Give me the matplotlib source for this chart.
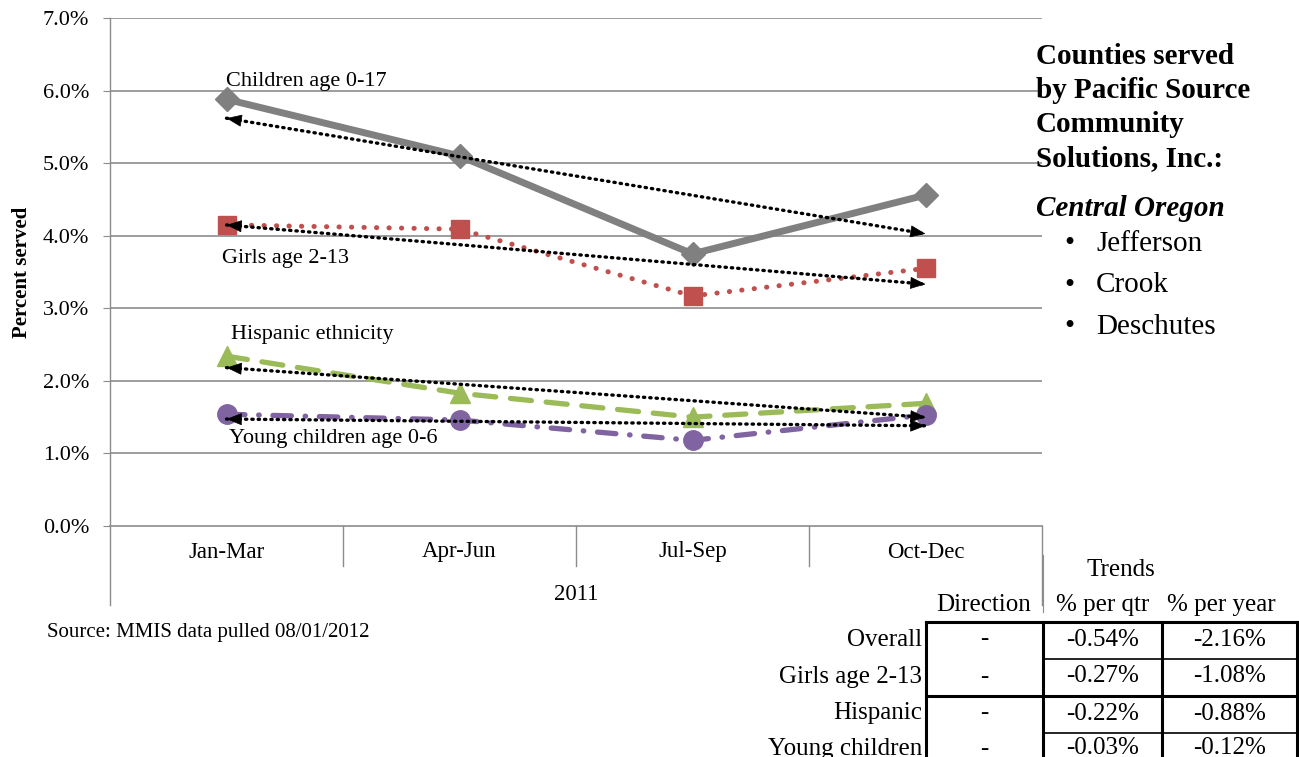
import matplotlib
matplotlib.use("Agg")
import matplotlib.pyplot as plt
import numpy as np

plt.rcParams['font.family'] = ['Liberation Serif', 'DejaVu Serif']

quarters = ["Jan-Mar", "Apr-Jun", "Jul-Sep", "Oct-Dec"]
year_label = "2011"
children = [5.88, 5.10, 3.75, 4.56]
girls = [4.15, 4.09, 3.17, 3.55]
hispanic = [2.34, 1.83, 1.50, 1.69]
young = [1.54, 1.46, 1.18, 1.53]
yticks = [0, 1, 2, 3, 4, 5, 6, 7]

table_rows = ["Overall", "Girls age 2-13", "Hispanic", "Young children"]
table_dir = ["-", "-", "-", "-"]
table_qtr = ["-0.54%", "-0.27%", "-0.22%", "-0.03%"]
table_year = ["-2.16%", "-1.08%", "-0.88%", "-0.12%"]

W, H = 1299, 757
fig = plt.figure(figsize=(W / 100, H / 100), dpi=100)
L, R, T, B = 110, 1042, 18, 526
ax = fig.add_axes([L / W, 1 - B / H, (R - L) / W, (B - T) / H])

x = np.arange(len(quarters))
ax.set_xlim(-0.5, 3.5)
ax.set_ylim(0, 7)
grid_c = '#8c8c8c'
for yv in yticks[1:]:
    ax.axhline(yv, color=grid_c, lw=1.2, zorder=0)
for s in ['top', 'right']:
    ax.spines[s].set_visible(False)
ax.spines['left'].set_color(grid_c)
ax.spines['bottom'].set_color(grid_c)
ax.spines['left'].set_linewidth(1.0)
ax.spines['bottom'].set_linewidth(1.2)
ax.set_yticks(yticks)
ax.set_yticklabels([f"{v:.1f}%" for v in yticks], fontsize=16)
ax.tick_params(axis='y', length=5, color=grid_c, pad=10)
ax.set_xticks([])
ax.set_ylabel("Percent served", fontsize=15, fontweight='bold', labelpad=8)

# category axis labels and separators
xt = ax.get_xaxis_transform()
h1 = 40 / (B - T)
h2 = 79 / (B - T)
for i, q in enumerate(quarters):
    ax.text(i, -26 / (B - T), q, transform=xt, ha='center', va='center', fontsize=16.5)
for sep in [0.5, 1.5, 2.5]:
    ax.plot([sep, sep], [0, -h1], transform=xt, color=grid_c, lw=1, clip_on=False)
for sep in [-0.5, 3.5]:
    ax.plot([sep, sep], [0, -h2], transform=xt, color=grid_c, lw=1, clip_on=False)
ax.text(1.5, -68 / (B - T), year_label, transform=xt, ha='center', va='center', fontsize=16.5)

# series
ax.plot(x, children, color='#808080', lw=5, marker='D', ms=12, zorder=5,
        solid_capstyle='round')
ax.plot(x, girls, color='#C0504D', lw=3.6, linestyle=(0, (0.05, 2.45)), dash_capstyle='round',
        marker='s', ms=13, zorder=5)
ax.plot(x, hispanic, color='#9BBB59', lw=3.8, linestyle=(0, (4, 2.8)), dash_capstyle='round',
        marker='^', ms=14, zorder=5)
ax.plot(x, young, color='#8064A2', lw=3.8, linestyle=(0, (3.5, 2.6, 0.1, 2.6)),
        dash_capstyle='round', marker='o', ms=14, zorder=5)

# trend lines (least squares) with arrowheads at both ends
for series in [children, girls, hispanic, young]:
    k, b = np.polyfit(x, series, 1)
    x0, x1 = x[0], x[-1]
    y0, y1 = k * x0 + b, k * x1 + b
    ax.plot([x0, x1], [y0, y1], color='black', lw=2.4, linestyle=(0, (0.4, 1.5)),
            dash_capstyle='round', zorder=6)
    for xe, d in [(x0, 0.06), (x1, -0.06)]:
        ax.annotate('', xy=(xe, k * xe + b), xytext=(xe + d, k * (xe + d) + b),
                    arrowprops=dict(arrowstyle='-|>,head_width=0.4,head_length=1.0',
                                    color='black', lw=0.5, shrinkA=0, shrinkB=0),
                    zorder=7)

# series annotations
ax.text(0.0, 6.12, "Children age 0-17", fontsize=16, ha='left', va='center')
ax.text(-0.02, 3.68, "Girls age 2-13", fontsize=16, ha='left', va='center')
ax.text(0.02, 2.64, "Hispanic ethnicity", fontsize=16, ha='left', va='center')
ax.text(0.01, 1.21, "Young children age 0-6", fontsize=16, ha='left', va='center')

# source
fig.text(47 / W, 1 - 632 / H, "Source: MMIS data pulled 08/01/2012", fontsize=15,
         ha='left', va='center')

# right-side text
hdr = ["Counties served", "by Pacific Source", "Community", "Solutions, Inc.:"]
for i, line in enumerate(hdr):
    fig.text(1036 / W, 1 - (57 + i * 34) / H, line, fontsize=21, fontweight='bold',
             ha='left', va='center')
fig.text(1036 / W, 1 - 209 / H, "Central Oregon", fontsize=21, fontweight='bold',
         fontstyle='italic', ha='left', va='center')
for i, c in enumerate(["Jefferson", "Crook", "Deschutes"]):
    yy = 1 - (244 + i * 41.5) / H
    fig.text(1069 / W, yy, "\u2022", fontsize=21, ha='center', va='center')
    fig.text(1096 / W, yy, c, fontsize=21, ha='left', va='center')

# trends table
fs = 18
fig.text(1121 / W, 1 - 570 / H, "Trends", fontsize=fs, ha='center', va='center')
fig.text(984 / W, 1 - 605 / H, "Direction", fontsize=fs, ha='center', va='center')
fig.text(1103 / W, 1 - 605 / H, "% per qtr", fontsize=fs, ha='center', va='center')
fig.text(1221 / W, 1 - 605 / H, "% per year", fontsize=fs, ha='center', va='center')
cols = [926, 1043, 1162, 1297]
rows_y = [622, 659, 696, 733, 766]
for i, lab in enumerate(table_rows):
    yc = 1 - (rows_y[i] + rows_y[i + 1]) / 2 / H + 1 / H
    fig.text(922 / W, yc, lab, fontsize=fs, ha='right', va='center')
    fig.text((cols[0] + cols[1]) / 2 / W, yc, table_dir[i], fontsize=fs, ha='center', va='center')
    fig.text((cols[1] + cols[2]) / 2 / W, yc, table_qtr[i], fontsize=fs, ha='center', va='center')
    fig.text((cols[2] + cols[3]) / 2 / W, yc, table_year[i], fontsize=fs, ha='center', va='center')

def fline(x0, y0, x1, y1, lw):
    fig.add_artist(plt.Line2D([x0 / W, x1 / W], [1 - y0 / H, 1 - y1 / H], color='black',
                              lw=lw, solid_capstyle='projecting'))

fline(cols[0], rows_y[0], cols[3], rows_y[0], 2.2)
for c in cols:
    fline(c, rows_y[0], c, H + 5, 2.2)
fline(cols[1], rows_y[1], cols[3], rows_y[1], 1.2)
fline(cols[0], rows_y[2], cols[3], rows_y[2], 2.2)
fline(cols[1], rows_y[3], cols[3], rows_y[3], 1.2)
# chart right boundary continuing down
fig.add_artist(plt.Line2D([1043 / W, 1043 / W], [1 - 555 / H, 1 - 612 / H], color=grid_c, lw=0.8))

fig.savefig("out.png", dpi=100)
